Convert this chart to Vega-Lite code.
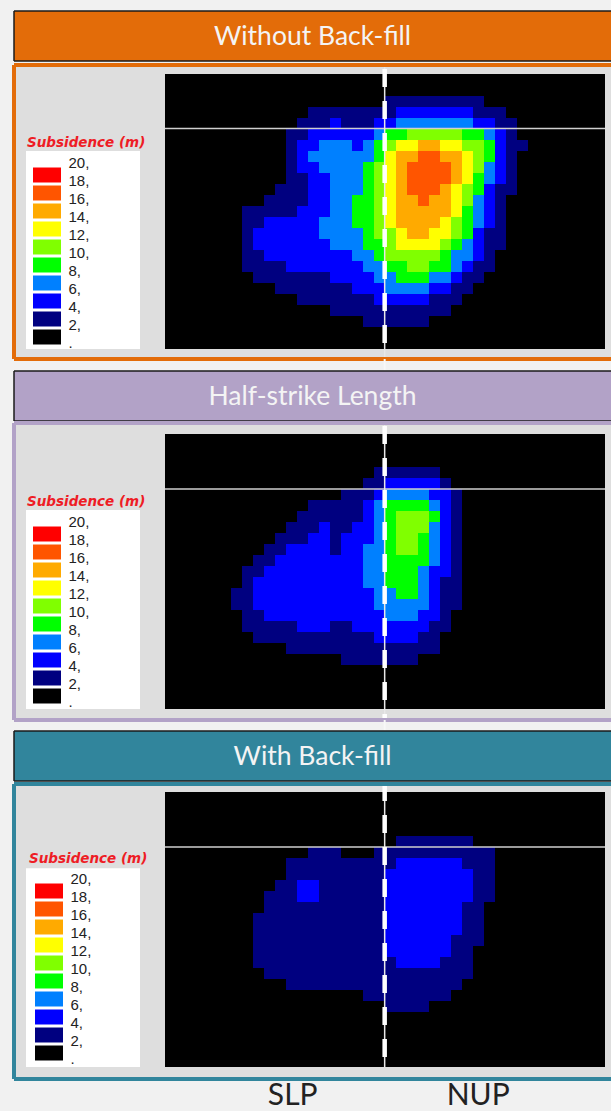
{"$schema":"https://vega.github.io/schema/vega-lite/v6.json","background":"#f1f1f1","padding":{"left":12,"top":10,"right":0,"bottom":0},"bounds":"flush","spacing":0,"data":{"values":[{}]},"resolve":{"scale":{"color":"independent"},"legend":{"color":"independent"}},"config":{"axis":{"disable":true},"view":{"stroke":null},"legend":{"orient":"none","legendX":13,"padding":0,"symbolType":"M-1.87,-0.6H1.87V1.4H-1.87Z","symbolSize":225,"symbolStrokeWidth":0,"symbolOpacity":1,"symbolOffset":12.5,"labelOffset":14,"rowPadding":-9.4,"labelBaseline":"line-bottom","labelLineHeight":28,"labelFont":"Liberation Sans","labelFontSize":15,"labelColor":"#222222","titleFont":"DejaVu Sans","titleFontSize":13.5,"titleFontStyle":"italic","titleFontWeight":"bold","titleColor":"#ee1c25","titlePadding":15,"titleLimit":200}},
"datasets":{
"p1":[
{"r":0,"c":13,"v":4},{"r":0,"c":14,"v":4},{"r":0,"c":15,"v":4},{"r":0,"c":16,"v":4},{"r":0,"c":17,"v":4},{"r":0,"c":18,"v":4},{"r":0,"c":19,"v":4},{"r":0,"c":20,"v":4},{"r":0,"c":21,"v":4},
{"r":1,"c":6,"v":4},{"r":1,"c":7,"v":4},{"r":1,"c":8,"v":4},{"r":1,"c":9,"v":4},{"r":1,"c":10,"v":4},{"r":1,"c":11,"v":4},{"r":1,"c":12,"v":4},{"r":1,"c":13,"v":4},{"r":1,"c":14,"v":6},{"r":1,"c":15,"v":6},{"r":1,"c":16,"v":6},{"r":1,"c":17,"v":6},{"r":1,"c":18,"v":6},{"r":1,"c":19,"v":6},{"r":1,"c":20,"v":6},{"r":1,"c":21,"v":4},{"r":1,"c":22,"v":4},{"r":1,"c":23,"v":4},
{"r":2,"c":5,"v":4},{"r":2,"c":6,"v":4},{"r":2,"c":7,"v":4},{"r":2,"c":8,"v":6},{"r":2,"c":9,"v":4},{"r":2,"c":10,"v":4},{"r":2,"c":11,"v":4},{"r":2,"c":12,"v":6},{"r":2,"c":13,"v":6},{"r":2,"c":14,"v":8},{"r":2,"c":15,"v":8},{"r":2,"c":16,"v":8},{"r":2,"c":17,"v":8},{"r":2,"c":18,"v":8},{"r":2,"c":19,"v":8},{"r":2,"c":20,"v":8},{"r":2,"c":21,"v":6},{"r":2,"c":22,"v":6},{"r":2,"c":23,"v":4},{"r":2,"c":24,"v":4},
{"r":3,"c":4,"v":4},{"r":3,"c":5,"v":4},{"r":3,"c":6,"v":6},{"r":3,"c":7,"v":6},{"r":3,"c":8,"v":6},{"r":3,"c":9,"v":6},{"r":3,"c":10,"v":6},{"r":3,"c":11,"v":6},{"r":3,"c":12,"v":8},{"r":3,"c":13,"v":10},{"r":3,"c":14,"v":10},{"r":3,"c":15,"v":12},{"r":3,"c":16,"v":12},{"r":3,"c":17,"v":12},{"r":3,"c":18,"v":12},{"r":3,"c":19,"v":12},{"r":3,"c":20,"v":10},{"r":3,"c":21,"v":10},{"r":3,"c":22,"v":8},{"r":3,"c":23,"v":6},{"r":3,"c":24,"v":4},
{"r":4,"c":4,"v":4},{"r":4,"c":5,"v":6},{"r":4,"c":6,"v":6},{"r":4,"c":7,"v":8},{"r":4,"c":8,"v":8},{"r":4,"c":9,"v":8},{"r":4,"c":10,"v":6},{"r":4,"c":11,"v":8},{"r":4,"c":12,"v":10},{"r":4,"c":13,"v":12},{"r":4,"c":14,"v":14},{"r":4,"c":15,"v":14},{"r":4,"c":16,"v":16},{"r":4,"c":17,"v":16},{"r":4,"c":18,"v":14},{"r":4,"c":19,"v":14},{"r":4,"c":20,"v":12},{"r":4,"c":21,"v":12},{"r":4,"c":22,"v":10},{"r":4,"c":23,"v":6},{"r":4,"c":24,"v":4},{"r":4,"c":25,"v":4},
{"r":5,"c":4,"v":4},{"r":5,"c":5,"v":6},{"r":5,"c":6,"v":8},{"r":5,"c":7,"v":8},{"r":5,"c":8,"v":8},{"r":5,"c":9,"v":8},{"r":5,"c":10,"v":8},{"r":5,"c":11,"v":8},{"r":5,"c":12,"v":10},{"r":5,"c":13,"v":14},{"r":5,"c":14,"v":16},{"r":5,"c":15,"v":16},{"r":5,"c":16,"v":18},{"r":5,"c":17,"v":18},{"r":5,"c":18,"v":16},{"r":5,"c":19,"v":16},{"r":5,"c":20,"v":14},{"r":5,"c":21,"v":12},{"r":5,"c":22,"v":10},{"r":5,"c":23,"v":6},{"r":5,"c":24,"v":4},
{"r":6,"c":4,"v":4},{"r":6,"c":5,"v":6},{"r":6,"c":6,"v":6},{"r":6,"c":7,"v":8},{"r":6,"c":8,"v":8},{"r":6,"c":9,"v":8},{"r":6,"c":10,"v":8},{"r":6,"c":11,"v":10},{"r":6,"c":12,"v":12},{"r":6,"c":13,"v":14},{"r":6,"c":14,"v":16},{"r":6,"c":15,"v":18},{"r":6,"c":16,"v":18},{"r":6,"c":17,"v":18},{"r":6,"c":18,"v":18},{"r":6,"c":19,"v":16},{"r":6,"c":20,"v":14},{"r":6,"c":21,"v":12},{"r":6,"c":22,"v":8},{"r":6,"c":23,"v":6},{"r":6,"c":24,"v":4},
{"r":7,"c":4,"v":4},{"r":7,"c":5,"v":4},{"r":7,"c":6,"v":6},{"r":7,"c":7,"v":6},{"r":7,"c":8,"v":8},{"r":7,"c":9,"v":8},{"r":7,"c":10,"v":8},{"r":7,"c":11,"v":10},{"r":7,"c":12,"v":12},{"r":7,"c":13,"v":14},{"r":7,"c":14,"v":16},{"r":7,"c":15,"v":18},{"r":7,"c":16,"v":18},{"r":7,"c":17,"v":18},{"r":7,"c":18,"v":18},{"r":7,"c":19,"v":16},{"r":7,"c":20,"v":14},{"r":7,"c":21,"v":10},{"r":7,"c":22,"v":8},{"r":7,"c":23,"v":6},{"r":7,"c":24,"v":4},
{"r":8,"c":3,"v":4},{"r":8,"c":4,"v":4},{"r":8,"c":5,"v":4},{"r":8,"c":6,"v":6},{"r":8,"c":7,"v":6},{"r":8,"c":8,"v":8},{"r":8,"c":9,"v":8},{"r":8,"c":10,"v":8},{"r":8,"c":11,"v":10},{"r":8,"c":12,"v":12},{"r":8,"c":13,"v":14},{"r":8,"c":14,"v":16},{"r":8,"c":15,"v":18},{"r":8,"c":16,"v":18},{"r":8,"c":17,"v":18},{"r":8,"c":18,"v":16},{"r":8,"c":19,"v":14},{"r":8,"c":20,"v":12},{"r":8,"c":21,"v":10},{"r":8,"c":22,"v":6},{"r":8,"c":23,"v":4},{"r":8,"c":24,"v":4},
{"r":9,"c":2,"v":4},{"r":9,"c":3,"v":4},{"r":9,"c":4,"v":4},{"r":9,"c":5,"v":4},{"r":9,"c":6,"v":6},{"r":9,"c":7,"v":6},{"r":9,"c":8,"v":8},{"r":9,"c":9,"v":8},{"r":9,"c":10,"v":10},{"r":9,"c":11,"v":10},{"r":9,"c":12,"v":12},{"r":9,"c":13,"v":14},{"r":9,"c":14,"v":16},{"r":9,"c":15,"v":16},{"r":9,"c":16,"v":18},{"r":9,"c":17,"v":16},{"r":9,"c":18,"v":16},{"r":9,"c":19,"v":14},{"r":9,"c":20,"v":12},{"r":9,"c":21,"v":8},{"r":9,"c":22,"v":6},{"r":9,"c":23,"v":4},
{"r":10,"c":0,"v":4},{"r":10,"c":1,"v":4},{"r":10,"c":2,"v":4},{"r":10,"c":3,"v":4},{"r":10,"c":4,"v":4},{"r":10,"c":5,"v":6},{"r":10,"c":6,"v":6},{"r":10,"c":7,"v":6},{"r":10,"c":8,"v":8},{"r":10,"c":9,"v":8},{"r":10,"c":10,"v":10},{"r":10,"c":11,"v":10},{"r":10,"c":12,"v":12},{"r":10,"c":13,"v":14},{"r":10,"c":14,"v":16},{"r":10,"c":15,"v":16},{"r":10,"c":16,"v":16},{"r":10,"c":17,"v":16},{"r":10,"c":18,"v":16},{"r":10,"c":19,"v":14},{"r":10,"c":20,"v":10},{"r":10,"c":21,"v":8},{"r":10,"c":22,"v":6},{"r":10,"c":23,"v":4},
{"r":11,"c":0,"v":4},{"r":11,"c":1,"v":4},{"r":11,"c":2,"v":6},{"r":11,"c":3,"v":6},{"r":11,"c":4,"v":6},{"r":11,"c":5,"v":6},{"r":11,"c":6,"v":6},{"r":11,"c":7,"v":8},{"r":11,"c":8,"v":8},{"r":11,"c":9,"v":8},{"r":11,"c":10,"v":10},{"r":11,"c":11,"v":10},{"r":11,"c":12,"v":12},{"r":11,"c":13,"v":14},{"r":11,"c":14,"v":16},{"r":11,"c":15,"v":16},{"r":11,"c":16,"v":16},{"r":11,"c":17,"v":16},{"r":11,"c":18,"v":14},{"r":11,"c":19,"v":12},{"r":11,"c":20,"v":10},{"r":11,"c":21,"v":8},{"r":11,"c":22,"v":6},{"r":11,"c":23,"v":4},
{"r":12,"c":0,"v":4},{"r":12,"c":1,"v":6},{"r":12,"c":2,"v":6},{"r":12,"c":3,"v":6},{"r":12,"c":4,"v":6},{"r":12,"c":5,"v":6},{"r":12,"c":6,"v":6},{"r":12,"c":7,"v":8},{"r":12,"c":8,"v":8},{"r":12,"c":9,"v":8},{"r":12,"c":10,"v":8},{"r":12,"c":11,"v":10},{"r":12,"c":12,"v":12},{"r":12,"c":13,"v":12},{"r":12,"c":14,"v":14},{"r":12,"c":15,"v":16},{"r":12,"c":16,"v":16},{"r":12,"c":17,"v":14},{"r":12,"c":18,"v":14},{"r":12,"c":19,"v":12},{"r":12,"c":20,"v":10},{"r":12,"c":21,"v":6},{"r":12,"c":22,"v":4},{"r":12,"c":23,"v":4},
{"r":13,"c":0,"v":4},{"r":13,"c":1,"v":6},{"r":13,"c":2,"v":6},{"r":13,"c":3,"v":6},{"r":13,"c":4,"v":6},{"r":13,"c":5,"v":6},{"r":13,"c":6,"v":6},{"r":13,"c":7,"v":6},{"r":13,"c":8,"v":8},{"r":13,"c":9,"v":8},{"r":13,"c":10,"v":8},{"r":13,"c":11,"v":10},{"r":13,"c":12,"v":10},{"r":13,"c":13,"v":12},{"r":13,"c":14,"v":14},{"r":13,"c":15,"v":14},{"r":13,"c":16,"v":14},{"r":13,"c":17,"v":14},{"r":13,"c":18,"v":12},{"r":13,"c":19,"v":10},{"r":13,"c":20,"v":8},{"r":13,"c":21,"v":6},{"r":13,"c":22,"v":4},{"r":13,"c":23,"v":4},
{"r":14,"c":0,"v":4},{"r":14,"c":1,"v":4},{"r":14,"c":2,"v":6},{"r":14,"c":3,"v":6},{"r":14,"c":4,"v":6},{"r":14,"c":5,"v":6},{"r":14,"c":6,"v":6},{"r":14,"c":7,"v":6},{"r":14,"c":8,"v":6},{"r":14,"c":9,"v":6},{"r":14,"c":10,"v":8},{"r":14,"c":11,"v":8},{"r":14,"c":12,"v":10},{"r":14,"c":13,"v":12},{"r":14,"c":14,"v":12},{"r":14,"c":15,"v":12},{"r":14,"c":16,"v":12},{"r":14,"c":17,"v":12},{"r":14,"c":18,"v":10},{"r":14,"c":19,"v":8},{"r":14,"c":20,"v":8},{"r":14,"c":21,"v":6},{"r":14,"c":22,"v":4},
{"r":15,"c":0,"v":4},{"r":15,"c":1,"v":4},{"r":15,"c":2,"v":4},{"r":15,"c":3,"v":4},{"r":15,"c":4,"v":6},{"r":15,"c":5,"v":6},{"r":15,"c":6,"v":6},{"r":15,"c":7,"v":6},{"r":15,"c":8,"v":6},{"r":15,"c":9,"v":6},{"r":15,"c":10,"v":6},{"r":15,"c":11,"v":8},{"r":15,"c":12,"v":8},{"r":15,"c":13,"v":10},{"r":15,"c":14,"v":10},{"r":15,"c":15,"v":12},{"r":15,"c":16,"v":12},{"r":15,"c":17,"v":10},{"r":15,"c":18,"v":10},{"r":15,"c":19,"v":8},{"r":15,"c":20,"v":6},{"r":15,"c":21,"v":4},{"r":15,"c":22,"v":4},
{"r":16,"c":1,"v":4},{"r":16,"c":2,"v":4},{"r":16,"c":3,"v":4},{"r":16,"c":4,"v":4},{"r":16,"c":5,"v":4},{"r":16,"c":6,"v":4},{"r":16,"c":7,"v":4},{"r":16,"c":8,"v":6},{"r":16,"c":9,"v":6},{"r":16,"c":10,"v":6},{"r":16,"c":11,"v":6},{"r":16,"c":12,"v":8},{"r":16,"c":13,"v":8},{"r":16,"c":14,"v":10},{"r":16,"c":15,"v":10},{"r":16,"c":16,"v":10},{"r":16,"c":17,"v":8},{"r":16,"c":18,"v":8},{"r":16,"c":19,"v":6},{"r":16,"c":20,"v":4},{"r":16,"c":21,"v":4},
{"r":17,"c":3,"v":4},{"r":17,"c":4,"v":4},{"r":17,"c":5,"v":4},{"r":17,"c":6,"v":4},{"r":17,"c":7,"v":4},{"r":17,"c":8,"v":4},{"r":17,"c":9,"v":4},{"r":17,"c":10,"v":6},{"r":17,"c":11,"v":6},{"r":17,"c":12,"v":6},{"r":17,"c":13,"v":8},{"r":17,"c":14,"v":8},{"r":17,"c":15,"v":8},{"r":17,"c":16,"v":8},{"r":17,"c":17,"v":6},{"r":17,"c":18,"v":6},{"r":17,"c":19,"v":4},{"r":17,"c":20,"v":4},
{"r":18,"c":5,"v":4},{"r":18,"c":6,"v":4},{"r":18,"c":7,"v":4},{"r":18,"c":8,"v":4},{"r":18,"c":9,"v":4},{"r":18,"c":10,"v":4},{"r":18,"c":11,"v":4},{"r":18,"c":12,"v":6},{"r":18,"c":13,"v":6},{"r":18,"c":14,"v":6},{"r":18,"c":15,"v":6},{"r":18,"c":16,"v":6},{"r":18,"c":17,"v":4},{"r":18,"c":18,"v":4},{"r":18,"c":19,"v":4},
{"r":19,"c":8,"v":4},{"r":19,"c":9,"v":4},{"r":19,"c":10,"v":4},{"r":19,"c":11,"v":4},{"r":19,"c":12,"v":4},{"r":19,"c":13,"v":4},{"r":19,"c":14,"v":4},{"r":19,"c":15,"v":4},{"r":19,"c":16,"v":4},{"r":19,"c":17,"v":4},{"r":19,"c":18,"v":4},
{"r":20,"c":11,"v":4},{"r":20,"c":12,"v":4},{"r":20,"c":13,"v":4},{"r":20,"c":14,"v":4},{"r":20,"c":15,"v":4},{"r":20,"c":16,"v":4}],
"p2":[
{"r":0,"c":13,"v":4},{"r":0,"c":14,"v":4},{"r":0,"c":15,"v":4},{"r":0,"c":16,"v":4},{"r":0,"c":17,"v":4},{"r":0,"c":18,"v":4},
{"r":1,"c":12,"v":4},{"r":1,"c":13,"v":4},{"r":1,"c":14,"v":6},{"r":1,"c":15,"v":6},{"r":1,"c":16,"v":6},{"r":1,"c":17,"v":6},{"r":1,"c":18,"v":6},{"r":1,"c":19,"v":4},
{"r":2,"c":10,"v":4},{"r":2,"c":11,"v":4},{"r":2,"c":12,"v":4},{"r":2,"c":13,"v":6},{"r":2,"c":14,"v":8},{"r":2,"c":15,"v":8},{"r":2,"c":16,"v":8},{"r":2,"c":17,"v":8},{"r":2,"c":18,"v":6},{"r":2,"c":19,"v":6},{"r":2,"c":20,"v":4},
{"r":3,"c":7,"v":4},{"r":3,"c":8,"v":4},{"r":3,"c":9,"v":4},{"r":3,"c":10,"v":4},{"r":3,"c":11,"v":4},{"r":3,"c":12,"v":6},{"r":3,"c":13,"v":8},{"r":3,"c":14,"v":10},{"r":3,"c":15,"v":10},{"r":3,"c":16,"v":10},{"r":3,"c":17,"v":10},{"r":3,"c":18,"v":8},{"r":3,"c":19,"v":6},{"r":3,"c":20,"v":4},
{"r":4,"c":6,"v":4},{"r":4,"c":7,"v":4},{"r":4,"c":8,"v":4},{"r":4,"c":9,"v":4},{"r":4,"c":10,"v":4},{"r":4,"c":11,"v":4},{"r":4,"c":12,"v":6},{"r":4,"c":13,"v":8},{"r":4,"c":14,"v":10},{"r":4,"c":15,"v":12},{"r":4,"c":16,"v":12},{"r":4,"c":17,"v":12},{"r":4,"c":18,"v":10},{"r":4,"c":19,"v":6},{"r":4,"c":20,"v":4},
{"r":5,"c":5,"v":4},{"r":5,"c":6,"v":4},{"r":5,"c":7,"v":4},{"r":5,"c":8,"v":6},{"r":5,"c":9,"v":4},{"r":5,"c":10,"v":4},{"r":5,"c":11,"v":6},{"r":5,"c":12,"v":6},{"r":5,"c":13,"v":8},{"r":5,"c":14,"v":10},{"r":5,"c":15,"v":12},{"r":5,"c":16,"v":12},{"r":5,"c":17,"v":12},{"r":5,"c":18,"v":8},{"r":5,"c":19,"v":6},{"r":5,"c":20,"v":4},
{"r":6,"c":4,"v":4},{"r":6,"c":5,"v":4},{"r":6,"c":6,"v":4},{"r":6,"c":7,"v":6},{"r":6,"c":8,"v":6},{"r":6,"c":9,"v":4},{"r":6,"c":10,"v":6},{"r":6,"c":11,"v":6},{"r":6,"c":12,"v":6},{"r":6,"c":13,"v":8},{"r":6,"c":14,"v":10},{"r":6,"c":15,"v":12},{"r":6,"c":16,"v":12},{"r":6,"c":17,"v":10},{"r":6,"c":18,"v":8},{"r":6,"c":19,"v":6},{"r":6,"c":20,"v":4},
{"r":7,"c":3,"v":4},{"r":7,"c":4,"v":4},{"r":7,"c":5,"v":6},{"r":7,"c":6,"v":6},{"r":7,"c":7,"v":6},{"r":7,"c":8,"v":6},{"r":7,"c":9,"v":4},{"r":7,"c":10,"v":6},{"r":7,"c":11,"v":6},{"r":7,"c":12,"v":8},{"r":7,"c":13,"v":8},{"r":7,"c":14,"v":10},{"r":7,"c":15,"v":12},{"r":7,"c":16,"v":12},{"r":7,"c":17,"v":10},{"r":7,"c":18,"v":8},{"r":7,"c":19,"v":6},{"r":7,"c":20,"v":4},
{"r":8,"c":2,"v":4},{"r":8,"c":3,"v":4},{"r":8,"c":4,"v":6},{"r":8,"c":5,"v":6},{"r":8,"c":6,"v":6},{"r":8,"c":7,"v":6},{"r":8,"c":8,"v":6},{"r":8,"c":9,"v":6},{"r":8,"c":10,"v":6},{"r":8,"c":11,"v":6},{"r":8,"c":12,"v":8},{"r":8,"c":13,"v":8},{"r":8,"c":14,"v":10},{"r":8,"c":15,"v":10},{"r":8,"c":16,"v":10},{"r":8,"c":17,"v":10},{"r":8,"c":18,"v":8},{"r":8,"c":19,"v":6},{"r":8,"c":20,"v":4},
{"r":9,"c":1,"v":4},{"r":9,"c":2,"v":4},{"r":9,"c":3,"v":6},{"r":9,"c":4,"v":6},{"r":9,"c":5,"v":6},{"r":9,"c":6,"v":6},{"r":9,"c":7,"v":6},{"r":9,"c":8,"v":6},{"r":9,"c":9,"v":6},{"r":9,"c":10,"v":6},{"r":9,"c":11,"v":6},{"r":9,"c":12,"v":8},{"r":9,"c":13,"v":8},{"r":9,"c":14,"v":10},{"r":9,"c":15,"v":10},{"r":9,"c":16,"v":10},{"r":9,"c":17,"v":8},{"r":9,"c":18,"v":6},{"r":9,"c":19,"v":6},{"r":9,"c":20,"v":4},
{"r":10,"c":1,"v":4},{"r":10,"c":2,"v":6},{"r":10,"c":3,"v":6},{"r":10,"c":4,"v":6},{"r":10,"c":5,"v":6},{"r":10,"c":6,"v":6},{"r":10,"c":7,"v":6},{"r":10,"c":8,"v":6},{"r":10,"c":9,"v":6},{"r":10,"c":10,"v":6},{"r":10,"c":11,"v":6},{"r":10,"c":12,"v":8},{"r":10,"c":13,"v":8},{"r":10,"c":14,"v":10},{"r":10,"c":15,"v":10},{"r":10,"c":16,"v":10},{"r":10,"c":17,"v":8},{"r":10,"c":18,"v":6},{"r":10,"c":19,"v":4},{"r":10,"c":20,"v":4},
{"r":11,"c":0,"v":4},{"r":11,"c":1,"v":4},{"r":11,"c":2,"v":6},{"r":11,"c":3,"v":6},{"r":11,"c":4,"v":6},{"r":11,"c":5,"v":6},{"r":11,"c":6,"v":6},{"r":11,"c":7,"v":6},{"r":11,"c":8,"v":6},{"r":11,"c":9,"v":6},{"r":11,"c":10,"v":6},{"r":11,"c":11,"v":6},{"r":11,"c":12,"v":6},{"r":11,"c":13,"v":8},{"r":11,"c":14,"v":8},{"r":11,"c":15,"v":10},{"r":11,"c":16,"v":10},{"r":11,"c":17,"v":8},{"r":11,"c":18,"v":6},{"r":11,"c":19,"v":4},{"r":11,"c":20,"v":4},
{"r":12,"c":0,"v":4},{"r":12,"c":1,"v":4},{"r":12,"c":2,"v":6},{"r":12,"c":3,"v":6},{"r":12,"c":4,"v":6},{"r":12,"c":5,"v":6},{"r":12,"c":6,"v":6},{"r":12,"c":7,"v":6},{"r":12,"c":8,"v":6},{"r":12,"c":9,"v":6},{"r":12,"c":10,"v":6},{"r":12,"c":11,"v":6},{"r":12,"c":12,"v":6},{"r":12,"c":13,"v":8},{"r":12,"c":14,"v":8},{"r":12,"c":15,"v":8},{"r":12,"c":16,"v":8},{"r":12,"c":17,"v":8},{"r":12,"c":18,"v":6},{"r":12,"c":19,"v":4},{"r":12,"c":20,"v":4},
{"r":13,"c":1,"v":4},{"r":13,"c":2,"v":4},{"r":13,"c":3,"v":6},{"r":13,"c":4,"v":6},{"r":13,"c":5,"v":6},{"r":13,"c":6,"v":6},{"r":13,"c":7,"v":6},{"r":13,"c":8,"v":6},{"r":13,"c":9,"v":6},{"r":13,"c":10,"v":6},{"r":13,"c":11,"v":6},{"r":13,"c":12,"v":6},{"r":13,"c":13,"v":6},{"r":13,"c":14,"v":8},{"r":13,"c":15,"v":8},{"r":13,"c":16,"v":8},{"r":13,"c":17,"v":6},{"r":13,"c":18,"v":6},{"r":13,"c":19,"v":4},
{"r":14,"c":1,"v":4},{"r":14,"c":2,"v":4},{"r":14,"c":3,"v":4},{"r":14,"c":4,"v":4},{"r":14,"c":5,"v":4},{"r":14,"c":6,"v":6},{"r":14,"c":7,"v":6},{"r":14,"c":8,"v":6},{"r":14,"c":9,"v":4},{"r":14,"c":10,"v":4},{"r":14,"c":11,"v":6},{"r":14,"c":12,"v":6},{"r":14,"c":13,"v":6},{"r":14,"c":14,"v":6},{"r":14,"c":15,"v":6},{"r":14,"c":16,"v":6},{"r":14,"c":17,"v":6},{"r":14,"c":18,"v":4},{"r":14,"c":19,"v":4},
{"r":15,"c":2,"v":4},{"r":15,"c":3,"v":4},{"r":15,"c":4,"v":4},{"r":15,"c":5,"v":4},{"r":15,"c":6,"v":4},{"r":15,"c":7,"v":4},{"r":15,"c":8,"v":4},{"r":15,"c":9,"v":4},{"r":15,"c":10,"v":4},{"r":15,"c":11,"v":4},{"r":15,"c":12,"v":4},{"r":15,"c":13,"v":6},{"r":15,"c":14,"v":6},{"r":15,"c":15,"v":6},{"r":15,"c":16,"v":6},{"r":15,"c":17,"v":4},{"r":15,"c":18,"v":4},
{"r":16,"c":5,"v":4},{"r":16,"c":6,"v":4},{"r":16,"c":7,"v":4},{"r":16,"c":8,"v":4},{"r":16,"c":9,"v":4},{"r":16,"c":10,"v":4},{"r":16,"c":11,"v":4},{"r":16,"c":12,"v":4},{"r":16,"c":13,"v":4},{"r":16,"c":14,"v":4},{"r":16,"c":15,"v":4},{"r":16,"c":16,"v":4},{"r":16,"c":17,"v":4},{"r":16,"c":18,"v":4},
{"r":17,"c":10,"v":4},{"r":17,"c":11,"v":4},{"r":17,"c":12,"v":4},{"r":17,"c":13,"v":4},{"r":17,"c":14,"v":4},{"r":17,"c":15,"v":4},{"r":17,"c":16,"v":4}],
"p3":[
{"r":0,"c":13,"v":4},{"r":0,"c":14,"v":4},{"r":0,"c":15,"v":4},{"r":0,"c":16,"v":4},{"r":0,"c":17,"v":4},{"r":0,"c":18,"v":4},{"r":0,"c":19,"v":4},
{"r":1,"c":5,"v":4},{"r":1,"c":6,"v":4},{"r":1,"c":7,"v":4},{"r":1,"c":11,"v":4},{"r":1,"c":12,"v":4},{"r":1,"c":13,"v":4},{"r":1,"c":14,"v":4},{"r":1,"c":15,"v":4},{"r":1,"c":16,"v":4},{"r":1,"c":17,"v":4},{"r":1,"c":18,"v":4},{"r":1,"c":19,"v":4},{"r":1,"c":20,"v":4},{"r":1,"c":21,"v":4},
{"r":2,"c":3,"v":4},{"r":2,"c":4,"v":4},{"r":2,"c":5,"v":4},{"r":2,"c":6,"v":4},{"r":2,"c":7,"v":4},{"r":2,"c":8,"v":4},{"r":2,"c":9,"v":4},{"r":2,"c":10,"v":4},{"r":2,"c":11,"v":4},{"r":2,"c":12,"v":4},{"r":2,"c":13,"v":6},{"r":2,"c":14,"v":6},{"r":2,"c":15,"v":6},{"r":2,"c":16,"v":6},{"r":2,"c":17,"v":6},{"r":2,"c":18,"v":6},{"r":2,"c":19,"v":4},{"r":2,"c":20,"v":4},{"r":2,"c":21,"v":4},
{"r":3,"c":3,"v":4},{"r":3,"c":4,"v":4},{"r":3,"c":5,"v":4},{"r":3,"c":6,"v":4},{"r":3,"c":7,"v":4},{"r":3,"c":8,"v":4},{"r":3,"c":9,"v":4},{"r":3,"c":10,"v":4},{"r":3,"c":11,"v":4},{"r":3,"c":12,"v":6},{"r":3,"c":13,"v":6},{"r":3,"c":14,"v":6},{"r":3,"c":15,"v":6},{"r":3,"c":16,"v":6},{"r":3,"c":17,"v":6},{"r":3,"c":18,"v":6},{"r":3,"c":19,"v":6},{"r":3,"c":20,"v":4},{"r":3,"c":21,"v":4},
{"r":4,"c":2,"v":4},{"r":4,"c":3,"v":4},{"r":4,"c":4,"v":6},{"r":4,"c":5,"v":6},{"r":4,"c":6,"v":4},{"r":4,"c":7,"v":4},{"r":4,"c":8,"v":4},{"r":4,"c":9,"v":4},{"r":4,"c":10,"v":4},{"r":4,"c":11,"v":4},{"r":4,"c":12,"v":6},{"r":4,"c":13,"v":6},{"r":4,"c":14,"v":6},{"r":4,"c":15,"v":6},{"r":4,"c":16,"v":6},{"r":4,"c":17,"v":6},{"r":4,"c":18,"v":6},{"r":4,"c":19,"v":6},{"r":4,"c":20,"v":4},{"r":4,"c":21,"v":4},
{"r":5,"c":1,"v":4},{"r":5,"c":2,"v":4},{"r":5,"c":3,"v":4},{"r":5,"c":4,"v":6},{"r":5,"c":5,"v":6},{"r":5,"c":6,"v":4},{"r":5,"c":7,"v":4},{"r":5,"c":8,"v":4},{"r":5,"c":9,"v":4},{"r":5,"c":10,"v":4},{"r":5,"c":11,"v":4},{"r":5,"c":12,"v":6},{"r":5,"c":13,"v":6},{"r":5,"c":14,"v":6},{"r":5,"c":15,"v":6},{"r":5,"c":16,"v":6},{"r":5,"c":17,"v":6},{"r":5,"c":18,"v":6},{"r":5,"c":19,"v":6},{"r":5,"c":20,"v":4},{"r":5,"c":21,"v":4},
{"r":6,"c":1,"v":4},{"r":6,"c":2,"v":4},{"r":6,"c":3,"v":4},{"r":6,"c":4,"v":4},{"r":6,"c":5,"v":4},{"r":6,"c":6,"v":4},{"r":6,"c":7,"v":4},{"r":6,"c":8,"v":4},{"r":6,"c":9,"v":4},{"r":6,"c":10,"v":4},{"r":6,"c":11,"v":4},{"r":6,"c":12,"v":6},{"r":6,"c":13,"v":6},{"r":6,"c":14,"v":6},{"r":6,"c":15,"v":6},{"r":6,"c":16,"v":6},{"r":6,"c":17,"v":6},{"r":6,"c":18,"v":6},{"r":6,"c":19,"v":4},{"r":6,"c":20,"v":4},
{"r":7,"c":0,"v":4},{"r":7,"c":1,"v":4},{"r":7,"c":2,"v":4},{"r":7,"c":3,"v":4},{"r":7,"c":4,"v":4},{"r":7,"c":5,"v":4},{"r":7,"c":6,"v":4},{"r":7,"c":7,"v":4},{"r":7,"c":8,"v":4},{"r":7,"c":9,"v":4},{"r":7,"c":10,"v":4},{"r":7,"c":11,"v":4},{"r":7,"c":12,"v":6},{"r":7,"c":13,"v":6},{"r":7,"c":14,"v":6},{"r":7,"c":15,"v":6},{"r":7,"c":16,"v":6},{"r":7,"c":17,"v":6},{"r":7,"c":18,"v":6},{"r":7,"c":19,"v":4},{"r":7,"c":20,"v":4},
{"r":8,"c":0,"v":4},{"r":8,"c":1,"v":4},{"r":8,"c":2,"v":4},{"r":8,"c":3,"v":4},{"r":8,"c":4,"v":4},{"r":8,"c":5,"v":4},{"r":8,"c":6,"v":4},{"r":8,"c":7,"v":4},{"r":8,"c":8,"v":4},{"r":8,"c":9,"v":4},{"r":8,"c":10,"v":4},{"r":8,"c":11,"v":4},{"r":8,"c":12,"v":6},{"r":8,"c":13,"v":6},{"r":8,"c":14,"v":6},{"r":8,"c":15,"v":6},{"r":8,"c":16,"v":6},{"r":8,"c":17,"v":6},{"r":8,"c":18,"v":6},{"r":8,"c":19,"v":4},{"r":8,"c":20,"v":4},
{"r":9,"c":0,"v":4},{"r":9,"c":1,"v":4},{"r":9,"c":2,"v":4},{"r":9,"c":3,"v":4},{"r":9,"c":4,"v":4},{"r":9,"c":5,"v":4},{"r":9,"c":6,"v":4},{"r":9,"c":7,"v":4},{"r":9,"c":8,"v":4},{"r":9,"c":9,"v":4},{"r":9,"c":10,"v":4},{"r":9,"c":11,"v":4},{"r":9,"c":12,"v":6},{"r":9,"c":13,"v":6},{"r":9,"c":14,"v":6},{"r":9,"c":15,"v":6},{"r":9,"c":16,"v":6},{"r":9,"c":17,"v":6},{"r":9,"c":18,"v":4},{"r":9,"c":19,"v":4},{"r":9,"c":20,"v":4},
{"r":10,"c":0,"v":4},{"r":10,"c":1,"v":4},{"r":10,"c":2,"v":4},{"r":10,"c":3,"v":4},{"r":10,"c":4,"v":4},{"r":10,"c":5,"v":4},{"r":10,"c":6,"v":4},{"r":10,"c":7,"v":4},{"r":10,"c":8,"v":4},{"r":10,"c":9,"v":4},{"r":10,"c":10,"v":4},{"r":10,"c":11,"v":4},{"r":10,"c":12,"v":6},{"r":10,"c":13,"v":6},{"r":10,"c":14,"v":6},{"r":10,"c":15,"v":6},{"r":10,"c":16,"v":6},{"r":10,"c":17,"v":6},{"r":10,"c":18,"v":4},{"r":10,"c":19,"v":4},
{"r":11,"c":0,"v":4},{"r":11,"c":1,"v":4},{"r":11,"c":2,"v":4},{"r":11,"c":3,"v":4},{"r":11,"c":4,"v":4},{"r":11,"c":5,"v":4},{"r":11,"c":6,"v":4},{"r":11,"c":7,"v":4},{"r":11,"c":8,"v":4},{"r":11,"c":9,"v":4},{"r":11,"c":10,"v":4},{"r":11,"c":11,"v":4},{"r":11,"c":12,"v":4},{"r":11,"c":13,"v":6},{"r":11,"c":14,"v":6},{"r":11,"c":15,"v":6},{"r":11,"c":16,"v":6},{"r":11,"c":17,"v":4},{"r":11,"c":18,"v":4},{"r":11,"c":19,"v":4},
{"r":12,"c":1,"v":4},{"r":12,"c":2,"v":4},{"r":12,"c":3,"v":4},{"r":12,"c":4,"v":4},{"r":12,"c":5,"v":4},{"r":12,"c":6,"v":4},{"r":12,"c":7,"v":4},{"r":12,"c":8,"v":4},{"r":12,"c":9,"v":4},{"r":12,"c":10,"v":4},{"r":12,"c":11,"v":4},{"r":12,"c":12,"v":4},{"r":12,"c":13,"v":4},{"r":12,"c":14,"v":4},{"r":12,"c":15,"v":4},{"r":12,"c":16,"v":4},{"r":12,"c":17,"v":4},{"r":12,"c":18,"v":4},{"r":12,"c":19,"v":4},
{"r":13,"c":3,"v":4},{"r":13,"c":4,"v":4},{"r":13,"c":5,"v":4},{"r":13,"c":6,"v":4},{"r":13,"c":7,"v":4},{"r":13,"c":8,"v":4},{"r":13,"c":9,"v":4},{"r":13,"c":10,"v":4},{"r":13,"c":11,"v":4},{"r":13,"c":12,"v":4},{"r":13,"c":13,"v":4},{"r":13,"c":14,"v":4},{"r":13,"c":15,"v":4},{"r":13,"c":16,"v":4},{"r":13,"c":17,"v":4},{"r":13,"c":18,"v":4},
{"r":14,"c":10,"v":4},{"r":14,"c":11,"v":4},{"r":14,"c":12,"v":4},{"r":14,"c":13,"v":4},{"r":14,"c":14,"v":4},{"r":14,"c":15,"v":4},{"r":14,"c":16,"v":4},{"r":14,"c":17,"v":4},
{"r":15,"c":12,"v":4},{"r":15,"c":13,"v":4},{"r":15,"c":14,"v":4},{"r":15,"c":15,"v":4}]
},
"vconcat":[
{"width":597,"height":50,"view":{"fill":"#e36c09"},"layer":[
{"data":{"values":[{"label":"Without Back-fill"}]},"mark":{"type":"text","font":"Lato","fontSize":26.5,"color":"#f4f4f4","dy":1},"encoding":{"text":{"field":"label"}}},
{"mark":{"type":"rule","color":"#1a1a1a","strokeWidth":1.5},"encoding":{"y":{"datum":0,"type":"quantitative","scale":{"domain":[0,1],"nice":false}}}},
{"mark":{"type":"rule","color":"#1a1a1a","strokeWidth":1.5},"encoding":{"y":{"datum":1,"type":"quantitative","scale":{"domain":[0,1],"nice":false}}}},
{"mark":{"type":"rule","color":"#1a1a1a","strokeWidth":1.5},"encoding":{"x":{"datum":0,"type":"quantitative","scale":{"domain":[0,1],"nice":false}}}}]},
{"width":597,"height":4,"mark":{"type":"rule","opacity":0},"encoding":{}},
{"width":597,"height":294,"view":{"fill":"#dedede"},"layer":[
{"mark":{"type":"rect","color":"#ffffff"},"encoding":{"x":{"datum":-20.136,"type":"quantitative","scale":{"domain":[-21.22727,33.04545],"nice":false}},"x2":{"datum":-9.773},"y":{"datum":4.5,"type":"quantitative","scale":{"domain":[-3.31818,23.40909],"reverse":true,"nice":false}},"y2":{"datum":22.5}}},
{"mark":{"type":"rect","color":"#000000"},"encoding":{"x":{"datum":-7.5,"type":"quantitative"},"x2":{"datum":32.5},"y":{"datum":-2.5,"type":"quantitative"},"y2":{"datum":22.5}}},
{"data":{"name":"p1"},"mark":{"type":"rect","width":11,"height":11},"encoding":{"x":{"field":"c","type":"quantitative"},"y":{"field":"r","type":"quantitative"},"color":{"field":"v","type":"ordinal","scale":{"domain":[20,18,16,14,12,10,8,6,4,2,0],"range":["#ff0000","#ff5500","#ffaa00","#ffff00","#80ff00","#00ff00","#0080ff","#0000ff","#000080","#000000","transparent"]},"legend":{"title":"Subsidence (m)","legendY":71,"labelExpr":"datum.value==0?'.':datum.value+','"}}}},
{"mark":{"type":"rule","color":"#cfcfcf","strokeWidth":1.5},"encoding":{"x":{"datum":-7.5,"type":"quantitative"},"x2":{"datum":32.5},"y":{"datum":2.455,"type":"quantitative"}}},
{"mark":{"type":"rule","color":"#e8e8e8","strokeWidth":1.5},"encoding":{"x":{"datum":12.47,"type":"quantitative"}}},
{"mark":{"type":"rule","color":"#ffffff","strokeWidth":4.5,"strokeDash":[18,14],"strokeDashOffset":28},"encoding":{"x":{"datum":12.47,"type":"quantitative"}}},
{"mark":{"type":"rule","color":"#e36c09","strokeWidth":4},"encoding":{"y":{"datum":-3.31818,"type":"quantitative"}}},
{"mark":{"type":"rule","color":"#e36c09","strokeWidth":4},"encoding":{"y":{"datum":23.40909,"type":"quantitative"}}},
{"mark":{"type":"rule","color":"#e36c09","strokeWidth":4},"encoding":{"x":{"datum":-21.22727,"type":"quantitative"}}}]},
{"width":597,"height":12,"mark":{"type":"rule","color":"#f8f8f8","strokeWidth":2},"encoding":{"x":{"datum":12.47,"type":"quantitative","scale":{"domain":[-21.22727,33.04545],"nice":false}}}},
{"width":597,"height":50,"view":{"fill":"#b2a2c7"},"layer":[
{"data":{"values":[{"label":"Half-strike Length"}]},"mark":{"type":"text","font":"Lato","fontSize":26.5,"color":"#f4f4f4","dy":1},"encoding":{"text":{"field":"label"}}},
{"mark":{"type":"rule","color":"#1a1a1a","strokeWidth":1.5},"encoding":{"y":{"datum":0,"type":"quantitative","scale":{"domain":[0,1],"nice":false}}}},
{"mark":{"type":"rule","color":"#1a1a1a","strokeWidth":1.5},"encoding":{"y":{"datum":1,"type":"quantitative","scale":{"domain":[0,1],"nice":false}}}},
{"mark":{"type":"rule","color":"#1a1a1a","strokeWidth":1.5},"encoding":{"x":{"datum":0,"type":"quantitative","scale":{"domain":[0,1],"nice":false}}}}]},
{"width":597,"height":2,"mark":{"type":"rule","opacity":0},"encoding":{}},
{"width":597,"height":297,"view":{"fill":"#dedede"},"layer":[
{"mark":{"type":"rect","color":"#ffffff"},"encoding":{"x":{"datum":-19.136,"type":"quantitative","scale":{"domain":[-20.22727,34.04545],"nice":false}},"x2":{"datum":-8.773},"y":{"datum":3.41,"type":"quantitative","scale":{"domain":[-4.5,22.5],"reverse":true,"nice":false}},"y2":{"datum":21.5}}},
{"mark":{"type":"rect","color":"#000000"},"encoding":{"x":{"datum":-6.5,"type":"quantitative"},"x2":{"datum":33.5},"y":{"datum":-3.5,"type":"quantitative"},"y2":{"datum":21.5}}},
{"data":{"name":"p2"},"mark":{"type":"rect","width":11,"height":11},"encoding":{"x":{"field":"c","type":"quantitative"},"y":{"field":"r","type":"quantitative"},"color":{"field":"v","type":"ordinal","scale":{"domain":[20,18,16,14,12,10,8,6,4,2,0],"range":["#ff0000","#ff5500","#ffaa00","#ffff00","#80ff00","#00ff00","#0080ff","#0000ff","#000080","#000000","transparent"]},"legend":{"title":"Subsidence (m)","legendY":72,"labelExpr":"datum.value==0?'.':datum.value+','"}}}},
{"mark":{"type":"rule","color":"#cfcfcf","strokeWidth":1.5},"encoding":{"x":{"datum":-6.5,"type":"quantitative"},"x2":{"datum":33.5},"y":{"datum":1.5,"type":"quantitative"}}},
{"mark":{"type":"rule","color":"#e8e8e8","strokeWidth":1.5},"encoding":{"x":{"datum":13.47,"type":"quantitative"}}},
{"mark":{"type":"rule","color":"#ffffff","strokeWidth":4.5,"strokeDash":[18,14],"strokeDashOffset":29},"encoding":{"x":{"datum":13.47,"type":"quantitative"}}},
{"mark":{"type":"rule","color":"#b2a2c7","strokeWidth":4},"encoding":{"y":{"datum":-4.5,"type":"quantitative"}}},
{"mark":{"type":"rule","color":"#b2a2c7","strokeWidth":4},"encoding":{"y":{"datum":22.5,"type":"quantitative"}}},
{"mark":{"type":"rule","color":"#b2a2c7","strokeWidth":4},"encoding":{"x":{"datum":-20.22727,"type":"quantitative"}}}]},
{"width":597,"height":11,"mark":{"type":"rule","color":"#f8f8f8","strokeWidth":2},"encoding":{"x":{"datum":12.47,"type":"quantitative","scale":{"domain":[-21.22727,33.04545],"nice":false}}}},
{"width":597,"height":50,"view":{"fill":"#31859c"},"layer":[
{"data":{"values":[{"label":"With Back-fill"}]},"mark":{"type":"text","font":"Lato","fontSize":26.5,"color":"#f4f4f4","dy":1},"encoding":{"text":{"field":"label"}}},
{"mark":{"type":"rule","color":"#1a1a1a","strokeWidth":1.5},"encoding":{"y":{"datum":0,"type":"quantitative","scale":{"domain":[0,1],"nice":false}}}},
{"mark":{"type":"rule","color":"#1a1a1a","strokeWidth":1.5},"encoding":{"y":{"datum":1,"type":"quantitative","scale":{"domain":[0,1],"nice":false}}}},
{"mark":{"type":"rule","color":"#1a1a1a","strokeWidth":1.5},"encoding":{"x":{"datum":0,"type":"quantitative","scale":{"domain":[0,1],"nice":false}}}}]},
{"width":597,"height":3,"mark":{"type":"rule","opacity":0},"encoding":{}},
{"width":597,"height":295,"view":{"fill":"#dedede"},"layer":[
{"mark":{"type":"rect","color":"#ffffff"},"encoding":{"x":{"datum":-21.136,"type":"quantitative","scale":{"domain":[-22.22727,32.04545],"nice":false}},"x2":{"datum":-10.773},"y":{"datum":2.436,"type":"quantitative","scale":{"domain":[-5.22727,21.59091],"reverse":true,"nice":false}},"y2":{"datum":20.5}}},
{"mark":{"type":"rect","color":"#000000"},"encoding":{"x":{"datum":-8.5,"type":"quantitative"},"x2":{"datum":31.5},"y":{"datum":-4.5,"type":"quantitative"},"y2":{"datum":20.5}}},
{"data":{"name":"p3"},"mark":{"type":"rect","width":11,"height":11},"encoding":{"x":{"field":"c","type":"quantitative"},"y":{"field":"r","type":"quantitative"},"color":{"field":"v","type":"ordinal","scale":{"domain":[20,18,16,14,12,10,8,6,4,2,0],"range":["#ff0000","#ff5500","#ffaa00","#ffff00","#80ff00","#00ff00","#0080ff","#0000ff","#000080","#000000","transparent"]},"legend":{"title":"Subsidence (m)","legendX":15,"legendY":68,"labelExpr":"datum.value==0?'.':datum.value+','"}}}},
{"mark":{"type":"rule","color":"#cfcfcf","strokeWidth":1.5},"encoding":{"x":{"datum":-8.5,"type":"quantitative"},"x2":{"datum":31.5},"y":{"datum":0.5,"type":"quantitative"}}},
{"mark":{"type":"rule","color":"#e8e8e8","strokeWidth":1.5},"encoding":{"x":{"datum":11.47,"type":"quantitative"},"y":{"datum":-5.22727,"type":"quantitative"},"y2":{"datum":20.5}}},
{"mark":{"type":"rule","color":"#ffffff","strokeWidth":4.5,"strokeDash":[18,14],"strokeDashOffset":1},"encoding":{"x":{"datum":11.47,"type":"quantitative"},"y":{"datum":-5.22727,"type":"quantitative"},"y2":{"datum":20.1}}},
{"mark":{"type":"rule","color":"#31859c","strokeWidth":4},"encoding":{"y":{"datum":-5.22727,"type":"quantitative"}}},
{"mark":{"type":"rule","color":"#31859c","strokeWidth":4},"encoding":{"y":{"datum":21.59091,"type":"quantitative"}}},
{"mark":{"type":"rule","color":"#31859c","strokeWidth":4},"encoding":{"x":{"datum":-22.22727,"type":"quantitative"}}}]},
{"width":597,"height":33,"data":{"values":[{"label":"SLP","x":4.11},{"label":"NUP","x":20.97}]},"mark":{"type":"text","font":"Lato","fontSize":30,"color":"#222222","baseline":"bottom","dy":15},"encoding":{"x":{"field":"x","type":"quantitative","scale":{"domain":[-21.22727,33.04545],"nice":false}},"text":{"field":"label"}}}
]}
